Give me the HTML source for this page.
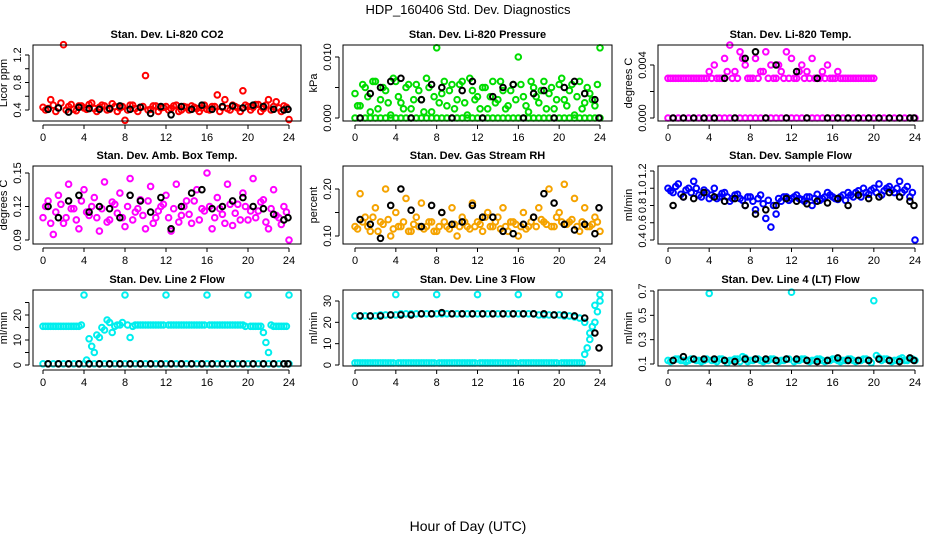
<!DOCTYPE html>
<html><head><meta charset="utf-8">
<style>
html,body{margin:0;padding:0;background:#fff;}
svg{display:block;font-family:"Liberation Sans",Arial,sans-serif;}
</style></head>
<body>
<svg id="chart" width="936" height="540" viewBox="0 0 936 540" xmlns="http://www.w3.org/2000/svg">
<text x="468" y="14" text-anchor="middle" font-size="13">HDP_160406  Std. Dev. Diagnostics</text>
<text x="468" y="531" text-anchor="middle" font-size="14">Hour of Day (UTC)</text>
</svg>
<script>
// ---------- data ----------
const hoursMain = [0,0.5,1,1.5,2,2.5,3,3.5,4,4.5,5,5.5,6,6.5,7,7.5,8,8.5,9,9.5,10,10.5,11,11.5,12,12.5,13,13.5,14,14.5,15,15.5,16,16.5,17,17.5,18,18.5,19,19.5,20,20.5,21,21.5,22,22.5,23,23.5,24];
const hoursQ = [0.25,0.75,1.25,1.75,2.25,2.75,3.25,3.75,4.25,4.75,5.25,5.75,6.25,6.75,7.25,7.75,8.25,8.75,9.25,9.75,10.25,10.75,11.25,11.75,12.25,12.75,13.25,13.75,14.25,14.75,15.25,15.75,16.25,16.75,17.25,17.75,18.25,18.75,19.25,19.75,20.25,20.75,21.25,21.75,22.25,22.75,23.25,23.75];
const hoursBlack = [0.5,1.5,2.5,3.5,4.5,5.5,6.5,7.5,8.5,9.5,10.5,11.5,12.5,13.5,14.5,15.5,16.5,17.5,18.5,19.5,20.5,21.5,22.5,23.5,23.9];
const xTicks = [0,4,8,12,16,20,24];

const co2Main = [0.44,0.42,0.47,0.43,1.35,0.45,0.41,0.46,0.43,0.48,0.42,0.44,0.46,0.41,0.45,0.43,0.25,0.47,0.42,0.44,0.9,0.41,0.46,0.43,0.45,0.42,0.47,0.4,0.44,0.46,0.42,0.43,0.41,0.45,0.62,0.44,0.42,0.47,0.43,0.68,0.45,0.44,0.48,0.42,0.55,0.45,0.43,0.46,0.26];
const co2Q = [0.4,0.55,0.38,0.5,0.4,0.48,0.39,0.46,0.41,0.5,0.38,0.47,0.4,0.49,0.38,0.45,0.4,0.47,0.38,0.45,0.4,0.46,0.38,0.44,0.4,0.46,0.38,0.45,0.4,0.44,0.38,0.47,0.4,0.45,0.38,0.55,0.4,0.45,0.38,0.47,0.4,0.48,0.38,0.47,0.4,0.52,0.38,0.44];
const co2Black = [0.41,0.43,0.37,0.44,0.42,0.41,0.42,0.46,0.41,0.44,0.35,0.45,0.33,0.45,0.41,0.47,0.41,0.45,0.46,0.43,0.47,0.45,0.41,0.4,0.41];

const presMain = [0.004,0.002,0.005,0.001,0.006,0.003,0.0045,0.0005,0.006,0.0025,0.005,0.0015,0.0055,0.003,0.0065,0.001,0.0115,0.004,0.002,0.0055,0.003,0.006,0.0005,0.0045,0.0035,0.005,0.0015,0.006,0.003,0.0045,0.002,0.0055,0.01,0.0035,0.001,0.005,0.0025,0.006,0.004,0.0015,0.0055,0.003,0.0045,0.0005,0.006,0.0025,0.004,0.002,0.0115];
const presQ = [0.002,0.0055,0.0035,0.006,0.0015,0.005,0.0025,0.0065,0.0035,0.0015,0.0055,0.003,0.0045,0.001,0.005,0.0035,0.0025,0.006,0.0045,0.0015,0.0055,0.0025,0.0065,0.003,0.0015,0.005,0.0035,0.0025,0.006,0.0015,0.0045,0.003,0.0055,0.002,0.006,0.0035,0.0045,0.0015,0.005,0.003,0.0065,0.002,0.0055,0.0035,0.0015,0.005,0.003,0.0055];
const presZero = [0,0,0,0,0,0,0,0,0,0,0,0,0,0,0,0,0,0,0,0,0,0,0,0,0,0,0,0,0,0,0,0,0,0,0,0,0,0,0,0,0,0,0,0,0,0,0,0,0];
const presBlack = [0,0.004,0.005,0.006,0.0065,0,0.003,0.0055,0.005,0,0.0045,0.006,0,0.0035,0.005,0.0055,0,0.004,0.0045,0,0.005,0.006,0.004,0.003,0];

const tempHigh = [0.003,0.003,0.003,0.003,0.003,0.003,0.003,0.003,0.0035,0.004,0.003,0.0045,0.0055,0.0035,0.005,0.004,0.003,0.0045,0.0035,0.005,0.004,0.003,0.0035,0.005,0.0045,0.003,0.004,0.0035,0.0045,0.003,0.0035,0.004,0.003,0.0035,0.003,0.003,0.003,0.003,0.003,0.003,0.003,null,null,null,null,null,null,null,null];
const tempQ = [0.003,0.003,0.003,0.003,0.003,0.003,0.003,0.003,0.003,0.003,0.003,0.0035,0.003,0.003,0.0045,0.003,0.003,0.003,0.0035,0.003,0.003,0.004,0.003,0.003,0.003,0.0035,0.003,0.003,0.003,0.003,0.003,0.003,0.003,0.003,0.003,0.003,0.003,0.003,0.003,0.003,null,null,null,null,null,null,null,null];
const tempZero = [0,0,0,0,0,0,0,0,0,0,0,0,0,0,0,0,0,0,0,0,0,0,0,0,0,0,0,0,0,0,0,0,0,0,0,0,0,0,0,0,0,0,0,0,0,0,0,0,0];
const tempBlack = [0,0,0,0,0,0.003,0,0.0045,0.005,0,0.004,0,0.0035,0,0.003,0,0,0,0,0,0,0,0,0,0];

const boxMain = [0.11,0.125,0.095,0.13,0.105,0.14,0.118,0.1,0.135,0.112,0.128,0.098,0.142,0.108,0.122,0.132,0.102,0.145,0.115,0.126,0.1,0.138,0.11,0.12,0.13,0.098,0.14,0.112,0.125,0.105,0.135,0.118,0.15,0.1,0.128,0.113,0.14,0.103,0.122,0.132,0.108,0.145,0.116,0.126,0.1,0.135,0.11,0.12,0.09];
const boxQ = [0.12,0.105,0.115,0.122,0.11,0.118,0.108,0.125,0.115,0.12,0.11,0.118,0.106,0.124,0.114,0.11,0.12,0.108,0.118,0.112,0.125,0.105,0.116,0.122,0.11,0.118,0.106,0.12,0.113,0.125,0.108,0.116,0.12,0.11,0.118,0.105,0.122,0.114,0.108,0.12,0.116,0.11,0.124,0.106,0.118,0.112,0.104,0.115];
const boxBlack = [0.12,0.11,0.125,0.13,0.115,0.12,0.118,0.11,0.13,0.125,0.115,0.128,0.1,0.12,0.132,0.135,0.118,0.12,0.125,0.128,0.12,0.118,0.113,0.108,0.11];

const rhMain = [0.12,0.19,0.14,0.11,0.16,0.13,0.2,0.1,0.15,0.12,0.18,0.11,0.14,0.17,0.12,0.13,0.11,0.15,0.12,0.16,0.1,0.14,0.12,0.17,0.13,0.11,0.15,0.12,0.14,0.16,0.11,0.13,0.1,0.15,0.12,0.14,0.16,0.13,0.2,0.12,0.15,0.21,0.13,0.18,0.11,0.16,0.12,0.14,0.11];
const rhQ = [0.115,0.13,0.12,0.14,0.11,0.125,0.135,0.115,0.12,0.13,0.11,0.125,0.12,0.115,0.13,0.11,0.12,0.13,0.115,0.125,0.12,0.13,0.115,0.12,0.125,0.14,0.12,0.13,0.115,0.12,0.13,0.125,0.12,0.115,0.13,0.12,0.135,0.125,0.12,0.14,0.13,0.125,0.135,0.12,0.13,0.12,0.125,0.13];
const rhBlack = [0.135,0.125,0.095,0.165,0.2,0.155,0.12,0.165,0.15,0.125,0.13,0.165,0.14,0.14,0.11,0.105,0.125,0.14,0.19,0.17,0.125,0.113,0.125,0.105,0.16];

const flowMain = [1.0,0.95,1.05,0.9,1.0,1.08,0.92,0.98,0.88,1.0,0.9,0.95,0.85,0.92,0.88,0.8,0.9,0.75,0.92,0.65,0.55,0.7,0.85,0.9,0.88,0.92,0.87,0.9,0.8,0.93,0.88,0.95,0.9,0.87,0.92,0.95,0.9,0.97,1.0,0.93,1.0,1.05,0.97,1.02,0.95,1.08,0.98,0.9,0.4];
const flowQ = [0.97,1.02,0.93,0.98,0.95,1.0,0.9,0.95,0.92,0.88,0.94,0.9,0.88,0.93,0.86,0.9,0.85,0.88,0.82,0.86,0.8,0.88,0.9,0.86,0.9,0.88,0.85,0.9,0.88,0.86,0.9,0.92,0.88,0.9,0.86,0.92,0.95,0.9,0.95,0.98,0.95,0.92,1.0,0.98,1.0,0.95,1.02,0.95];
const flowBlack = [0.8,0.9,0.88,0.95,0.9,0.85,0.88,0.8,0.7,0.75,0.8,0.88,0.85,0.82,0.85,0.83,0.88,0.8,0.92,0.88,0.9,0.95,0.9,0.85,0.8];

const line2Main = [15.5,15.5,15.5,15.5,15.5,15.5,15.5,15.5,28,10.5,5,11,14,17,15.5,16,28,11,16,16,16,16,16,16,28,16,16,16,16,16,16,16,28,16,16,16,16,16,16,16,28,15.5,15.5,13,5,15.5,15.5,15.5,28];
const line2Q = [15.5,15.5,15.5,15.5,15.5,15.5,15.5,16,2,7.5,12,15,18,13,16,17,16,15.5,16,16,16,16,16,16,16,16,16,16,16,16,16,16,16,16,16,16,16,16,16,15.5,15.5,15.5,15.5,9,16,15.5,15.5,15.5];
const line2Zero = [0.5,0.5,0.5,0.5,0.5,0.5,0.5,0.5,0.5,0.5,0.5,0.5,0.5,0.5,0.5,0.5,0.5,0.5,0.5,0.5,0.5,0.5,0.5,0.5,0.5,0.5,0.5,0.5,0.5,0.5,0.5,0.5,0.5,0.5,0.5,0.5,0.5,0.5,0.5,0.5,0.5,0.5,0.5,0.5,0.5,0.5,0.5,0.5,0.5];
const line2Black = [0.5,0.5,0.5,0.5,0.5,0.5,0.5,0.5,0.5,0.5,0.5,0.5,0.5,0.5,0.5,0.5,0.5,0.5,0.5,0.5,0.5,0.5,0.5,0.5,0.5];

const line3Main = [1,1,1,1,1,1,1,1,33,1,1,1,1,1,1,1,33,1,1,1,1,1,1,1,33,1,1,1,1,1,1,1,33,1,1,1,1,1,1,1,33,1,1,1,1,5,12,28,33];
const line3Zero = [1,1,1,1,1,1,1,1,1,1,1,1,1,1,1,1,1,1,1,1,1,1,1,1,1,1,1,1,1,1,1,1,1,1,1,1,1,1,1,1,1,1,1,1,1,8,18,25];
const line3High = [23,23,23,23,23,23.5,23.5,23.5,23.5,24,24,24,24,24,24,24,24,24,24,24,24,24,24,24,24,24,24,24,24,24,24,24,24,24,24,24,23.5,23.5,23.5,23.5,23.5,23,23,22.5,22,20,15,20,30];
const line3Black = [23,23,23,23.5,23.5,23.5,24,24,24.5,24,24,24,24,24,24,24,24,24,24,23.5,23.5,23,22,15,8];

const line4Main = [0.13,0.13,0.14,0.13,0.13,0.14,0.13,0.13,0.68,0.13,0.14,0.13,0.13,0.14,0.12,0.15,0.13,0.14,0.13,0.13,0.14,0.13,0.13,0.14,0.69,0.13,0.14,0.13,0.13,0.14,0.13,0.13,0.14,0.13,0.13,0.14,0.13,0.13,0.14,0.13,0.62,0.15,0.14,0.13,0.13,0.14,0.13,0.14,0.13];
const line4Q = [0.12,0.14,0.13,0.12,0.14,0.13,0.12,0.14,0.13,0.12,0.14,0.11,0.13,0.14,0.16,0.12,0.13,0.14,0.12,0.13,0.14,0.12,0.13,0.14,0.12,0.13,0.14,0.12,0.13,0.14,0.12,0.13,0.14,0.12,0.13,0.14,0.12,0.13,0.14,0.11,0.17,0.13,0.14,0.12,0.13,0.15,0.13,0.14];
const line4Black = [0.13,0.16,0.14,0.14,0.14,0.13,0.12,0.14,0.14,0.14,0.13,0.14,0.14,0.13,0.12,0.13,0.15,0.13,0.13,0.13,0.14,0.13,0.12,0.15,0.13];

const co2Ticks = [0.4,0.6,0.8,1.0,1.2];
const co2Labels = ['0.4','','0.8','','1.2'];
const presTicks = [0,0.005,0.01];
const presLabels = ['0.000','','0.010'];
const tempTicks = [0,0.002,0.004];
const tempLabels = ['0.000','','0.004'];
const boxTicks = [0.09,0.12,0.15];
const boxLabels = ['0.09','0.12','0.15'];
const rhTicks = [0.1,0.15,0.2];
const rhLabels = ['0.10','','0.20'];
const flowTicks = [0.4,0.6,0.8,1.0,1.2];
const flowLabels = ['0.4','0.6','0.8','1.0','1.2'];
const line2Ticks = [0,5,10,15,20,25];
const line2Labels = ['0','','10','','20',''];
const line3Ticks = [0,10,20,30];
const line3Labels = ['0','10','20','30'];
const line4Ticks = [0.1,0.3,0.5,0.7];
const line4Labels = ['0.1','0.3','0.5','0.7'];

// ---------- layout ----------
const cols = [
  {bx0:33,bx1:301,x0:43,x24:289},
  {bx0:343,bx1:612,x0:355,x24:600},
  {bx0:658,bx1:923,x0:668,x24:915}
];
const rows = [{by0:45,by1:121},{by0:166,by1:244},{by0:290,by1:366}];
const NS = 'http://www.w3.org/2000/svg';
const svg = document.getElementById('chart');
function mk(tag, attrs, parent){
  const e = document.createElementNS(NS, tag);
  for (const k in attrs) e.setAttribute(k, attrs[k]);
  (parent||svg).appendChild(e);
  return e;
}
const RED='#ff0000', GRN='#00dd00', MAG='#ff00ff', ORG='#f5a300', BLU='#0000ff', CYN='#00eeee', BLK='#000';

const panels = [
  {c:0,r:0,title:'Stan. Dev. Li-820 CO2',ylab:'Licor ppm',ticks:co2Ticks,labels:co2Labels,v0:0.4,p0:110,v1:1.2,p1:55,
   series:[{t:hoursMain,v:co2Main,col:RED},{t:hoursQ,v:co2Q,col:RED},{t:hoursBlack,v:co2Black,col:BLK}]},
  {c:1,r:0,title:'Stan. Dev. Li-820 Pressure',ylab:'kPa',ticks:presTicks,labels:presLabels,v0:0,p0:118,v1:0.01,p1:57,
   series:[{t:hoursMain,v:presMain,col:GRN},{t:hoursQ,v:presQ,col:GRN},{t:hoursMain,v:presZero,col:GRN},{t:hoursBlack,v:presBlack,col:BLK}]},
  {c:2,r:0,title:'Stan. Dev. Li-820 Temp.',ylab:'degrees C',ticks:tempTicks,labels:tempLabels,v0:0,p0:118,v1:0.004,p1:65,
   series:[{t:hoursMain,v:tempHigh,col:MAG},{t:hoursQ,v:tempQ,col:MAG},{t:hoursMain,v:tempZero,col:MAG},{t:hoursBlack,v:tempBlack,col:BLK}]},
  {c:0,r:1,title:'Stan. Dev. Amb. Box Temp.',ylab:'degrees C',ticks:boxTicks,labels:boxLabels,v0:0.09,p0:240,v1:0.15,p1:173,
   series:[{t:hoursMain,v:boxMain,col:MAG},{t:hoursQ,v:boxQ,col:MAG},{t:hoursBlack,v:boxBlack,col:BLK}]},
  {c:1,r:1,title:'Stan. Dev. Gas Stream RH',ylab:'percent',ticks:rhTicks,labels:rhLabels,v0:0.1,p0:236,v1:0.2,p1:189,
   series:[{t:hoursMain,v:rhMain,col:ORG},{t:hoursQ,v:rhQ,col:ORG},{t:hoursBlack,v:rhBlack,col:BLK}]},
  {c:2,r:1,title:'Stan. Dev. Sample Flow',ylab:'ml/min',ticks:flowTicks,labels:flowLabels,v0:0.4,p0:240,v1:1.2,p1:171,
   series:[{t:hoursMain,v:flowMain,col:BLU},{t:hoursQ,v:flowQ,col:BLU},{t:hoursBlack,v:flowBlack,col:BLK}]},
  {c:0,r:2,title:'Stan. Dev. Line 2 Flow',ylab:'ml/min',ticks:line2Ticks,labels:line2Labels,v0:0,p0:365,v1:20,p1:315,
   series:[{t:hoursMain,v:line2Main,col:CYN},{t:hoursQ,v:line2Q,col:CYN},{t:hoursMain,v:line2Zero,col:CYN},{t:hoursBlack,v:line2Black,col:BLK}]},
  {c:1,r:2,title:'Stan. Dev. Line 3 Flow',ylab:'ml/min',ticks:line3Ticks,labels:line3Labels,v0:0,p0:365,v1:30,p1:301,
   series:[{t:hoursMain,v:line3Main,col:CYN},{t:hoursQ,v:line3Zero,col:CYN},{t:hoursMain,v:line3High,col:CYN},{t:hoursBlack,v:line3Black,col:BLK}]},
  {c:2,r:2,title:'Stan. Dev. Line 4 (LT) Flow',ylab:'ml/min',ticks:line4Ticks,labels:line4Labels,v0:0.1,p0:364,v1:0.7,p1:291,
   series:[{t:hoursMain,v:line4Main,col:CYN},{t:hoursQ,v:line4Q,col:CYN},{t:hoursBlack,v:line4Black,col:BLK}]}
];

panels.forEach((p, pi) => {
  const C = cols[p.c], R = rows[p.r];
  const xs = t => C.x0 + (t/24)*(C.x24 - C.x0);
  const ys = v => p.p0 + (v - p.v0)*(p.p1 - p.p0)/(p.v1 - p.v0);
  const g = mk('g', {});
  
  
  const title = mk('text', {x:(C.bx0+C.bx1)/2, y:R.by0-7, 'text-anchor':'middle','font-size':'11','font-weight':'bold'}, g);
  title.textContent = p.title;
  
  
  const pts = mk('g', {fill:'none','stroke-width':'2'}, g);
  
  
  p.series.forEach(s => {
    s.t.forEach((t, i) => {
      const v = s.v[i];
      if (v === null || v === undefined) return;
      const c = mk('circle', {cx:xs(t).toFixed(1), cy:ys(v).toFixed(1), r:'2.8', stroke:s.col}, pts);
      
      
    });
  });
  const box = mk('rect', {x:C.bx0, y:R.by0, width:C.bx1-C.bx0, height:R.by1-R.by0, fill:'none', stroke:'#000','stroke-width':'1'}, g);
  
  
  const xa = mk('g', {}, g);
  
  
  mk('line', {x1:xs(0), x2:xs(24), y1:R.by1+4, y2:R.by1+4, stroke:'#000'}, xa);
  xTicks.forEach(t => {
    mk('line', {x1:xs(t), x2:xs(t), y1:R.by1+4, y2:R.by1+8, stroke:'#000'}, xa);
    const tl = mk('text', {x:xs(t), y:R.by1+20, 'text-anchor':'middle','font-size':'11'}, xa);
    tl.textContent = t;
    
    
  });
  const ya = mk('g', {}, g);
  
  
  const ax = C.bx0 - 4;
  mk('line', {x1:ax, x2:ax, y1:ys(p.ticks[0]), y2:ys(p.ticks[p.ticks.length-1]), stroke:'#000'}, ya);
  p.ticks.forEach((v, i) => {
    const y = ys(v);
    mk('line', {x1:ax-4, x2:ax, y1:y, y2:y, stroke:'#000'}, ya);
    if (!p.labels[i]) return;
    const tl = mk('text', {x:0, y:0, 'text-anchor':'middle','font-size':'11', transform:`translate(${ax-8},${y}) rotate(-90)`}, ya);
    tl.textContent = p.labels[i];
    
    
  });
  const yl = mk('text', {x:0, y:0, 'text-anchor':'middle','font-size':'11', transform:`translate(${ax-22},${(R.by0+R.by1)/2}) rotate(-90)`}, ya);
  yl.textContent = p.ylab;
  
  
});
</script>
</body></html>
